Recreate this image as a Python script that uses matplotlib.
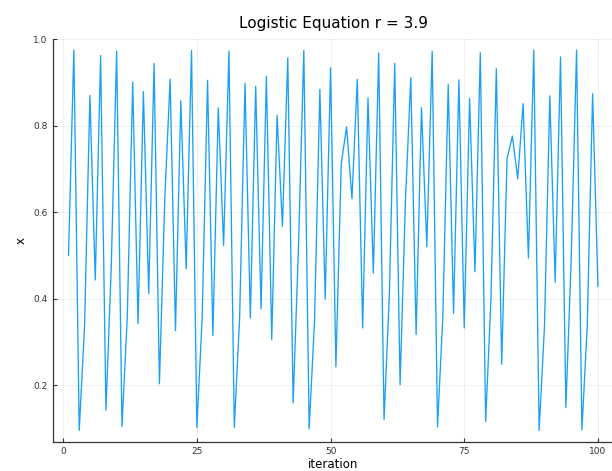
import numpy as np
from matplotlib import pyplot as plt

# values, iterations 1..100
iteration = np.arange(1, 101)
x = [0.500, 0.975, 0.095, 0.336, 0.870, 0.443, 0.962, 0.142, 0.476, 0.973,
     0.104, 0.362, 0.901, 0.342, 0.879, 0.411, 0.944, 0.203, 0.631, 0.908,
     0.326, 0.857, 0.469, 0.974, 0.102, 0.357, 0.905, 0.315, 0.841, 0.523,
     0.973, 0.102, 0.357, 0.898, 0.355, 0.891, 0.376, 0.914, 0.305, 0.824,
     0.567, 0.957, 0.159, 0.519, 0.974, 0.099, 0.348, 0.884, 0.399, 0.934,
     0.242, 0.712, 0.797, 0.631, 0.907, 0.332, 0.864, 0.459, 0.968, 0.120,
     0.412, 0.944, 0.201, 0.626, 0.911, 0.317, 0.842, 0.520, 0.972, 0.103,
     0.360, 0.895, 0.366, 0.906, 0.332, 0.863, 0.462, 0.969, 0.116, 0.400,
     0.932, 0.248, 0.724, 0.776, 0.677, 0.851, 0.494, 0.975, 0.095, 0.335,
     0.869, 0.438, 0.959, 0.148, 0.492, 0.975, 0.096, 0.338, 0.874, 0.428]

xticks = [0, 25, 50, 75, 100]
yticks = [0.2, 0.4, 0.6, 0.8, 1.0]

plt.rcParams['font.family'] = ['DejaVu Sans']
fig = plt.figure(figsize=(6.12, 4.71), dpi=100)
ax = fig.add_axes([0.086, 0.062, 0.917, 0.856])

ax.plot(iteration, x, color='#1AA0F5', linewidth=0.95)

ax.set_xlim(-1.97, 102.97)
ax.set_ylim(0.0687, 1.0014)
ax.set_xticks(xticks)
ax.set_yticks(yticks)
ax.set_yticklabels(['%.1f' % v for v in yticks])
ax.tick_params(direction='in', length=3, width=0.8, labelsize=6.5,
               color='#333333', labelcolor='#333333')
ax.grid(True, color='black', alpha=0.07, linewidth=0.6)

for s in ['top', 'right']:
    ax.spines[s].set_visible(False)
for s in ['left', 'bottom']:
    ax.spines[s].set_linewidth(0.9)
    ax.spines[s].set_color('#333333')

ax.set_title('Logistic Equation r = 3.9', fontsize=11, pad=8)
ax.set_xlabel('iteration', fontsize=8.5, labelpad=2)
ax.set_ylabel('x', fontsize=8.5, labelpad=4)

fig.savefig('out.png', dpi=100)
